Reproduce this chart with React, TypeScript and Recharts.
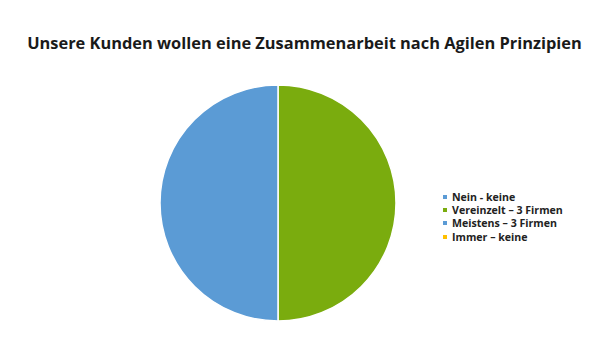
import { PieChart, Pie, Cell } from 'recharts'

const categories = ['Nein - keine', 'Vereinzelt – 3 Firmen', 'Meistens – 3 Firmen', 'Immer – keine']
const values = [0, 3, 3, 0]
const colors = ['#5b9bd5', '#7aac0e', '#5b9bd5', '#ffc000']

const title = 'Unsere Kunden wollen eine Zusammenarbeit nach Agilen Prinzipien'

const data = categories.map((name, i) => ({ name, value: values[i] }))

function LegendList() {
  return (
    <ul style={{ position: 'absolute', left: 443, top: 190, listStyle: 'none', margin: 0, padding: 0 }}>
      {categories.map((name, i) => (
        <li
          key={name}
          style={{
            display: 'flex',
            alignItems: 'center',
            height: 13.3,
            fontSize: 10.6,
            fontWeight: 700,
            color: '#222',
            fontFamily: '"Open Sans", sans-serif',
          }}
        >
          <span
            style={{
              display: 'inline-block',
              width: 4,
              height: 4,
              background: colors[i],
              marginRight: 5,
            }}
          />
          {name}
        </li>
      ))}
    </ul>
  )
}

export default function App() {
  return (
    <div style={{ position: 'fixed', left: 0, top: 0, width: 609, height: 343, background: '#fff' }}>
      <div
        style={{
          position: 'absolute',
          top: 31,
          left: 0,
          width: 609,
          textAlign: 'center',
          fontFamily: '"Open Sans", sans-serif',
          fontWeight: 700,
          fontSize: 16.4,
          color: '#1a1a1a',
        }}
      >
        {title}
      </div>
      <PieChart width={609} height={343} margin={{ top: 0, right: 0, bottom: 0, left: 0 }}>
        <Pie
          data={data}
          dataKey="value"
          nameKey="name"
          cx={278}
          cy={203}
          outerRadius={118}
          startAngle={90}
          endAngle={-270}
          stroke="#fff"
          strokeWidth={1.5}
          isAnimationActive={false}
        >
          {data.map((d, i) => (
            <Cell key={d.name} fill={colors[i]} />
          ))}
        </Pie>
      </PieChart>
      <LegendList />
    </div>
  )
}
